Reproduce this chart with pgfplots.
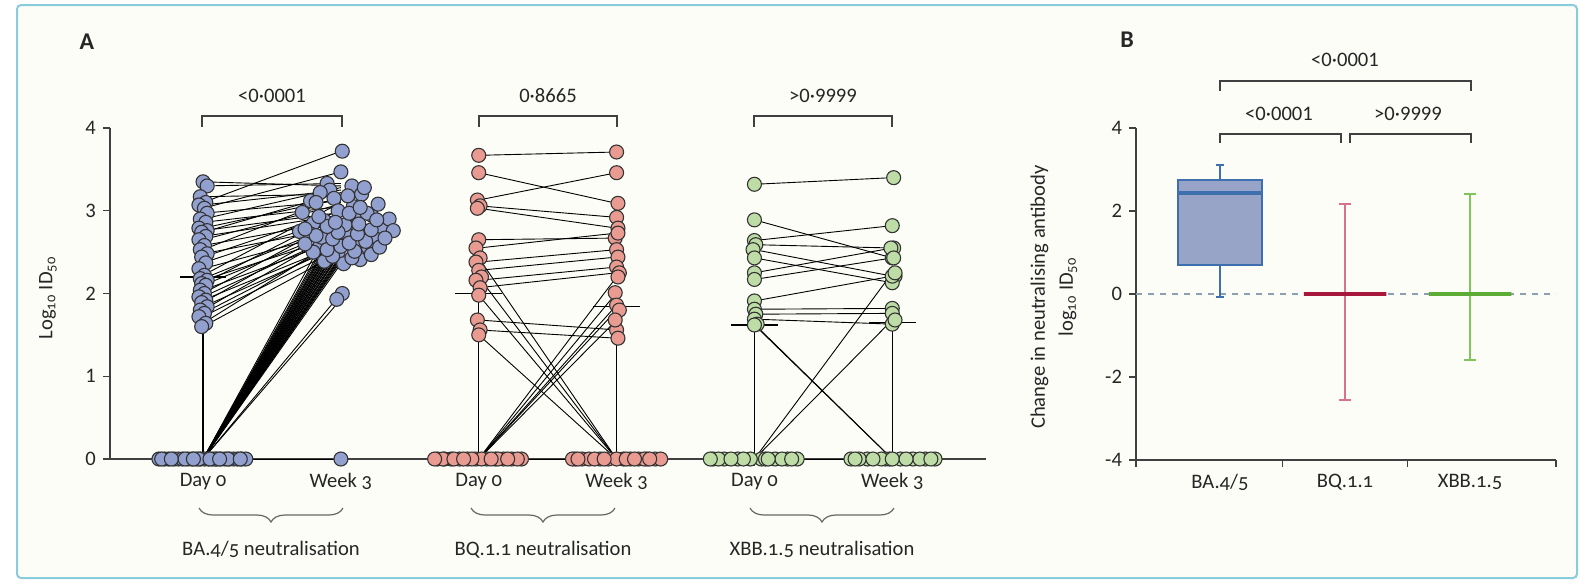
\documentclass[border=0pt]{standalone}
\usepackage{pgfplots}
\pgfplotsset{compat=1.18}
\usepackage{pgfplotstable}
\usepgfplotslibrary{statistics}
\usetikzlibrary{decorations.pathreplacing}
\usepackage{fontspec}
\setmainfont{Carlito}[Numbers=OldStyle]
\newfontfamily\lnum{Carlito}[Numbers=Lining]

\definecolor{baDot}{HTML}{92A0CF}
\definecolor{bqDot}{HTML}{E99B91}
\definecolor{xbDot}{HTML}{BEDDA6}
\definecolor{dotEdge}{HTML}{333333}
\definecolor{axisGray}{HTML}{404040}
\definecolor{boxFill}{HTML}{97A3C7}
\definecolor{boxEdge}{HTML}{3E6FAE}
\definecolor{bqDark}{HTML}{A8183C}
\definecolor{bqLight}{HTML}{D7728C}
\definecolor{xbDark}{HTML}{5CAC35}
\definecolor{xbLight}{HTML}{80C45C}
\definecolor{zeroDash}{HTML}{8C9FB2}
\definecolor{panelBg}{HTML}{FDFDF7}
\definecolor{panelFrame}{HTML}{89CCDC}

\newcommand\labfont{\fontsize{10.3pt}{12pt}\selectfont}

% paired log10 ID50 per participant: day 0 (d0), week 3 (w3), with horizontal offsets of the dots
\pgfplotstableread{
d0 jd w3 jw
3.35 0.00 3.30 0.08
3.30 0.03 3.33 -0.10
3.17 -0.02 3.20 0.15
3.10 0.02 3.72 0.01
3.07 -0.03 3.25 -0.08
3.03 0.01 3.47 0.00
2.97 0.03 3.12 -0.22
2.90 -0.02 3.28 0.17
2.86 0.02 3.05 0.09
2.79 -0.03 3.15 -0.05
2.76 0.03 2.98 -0.28
2.74 -0.01 3.22 -0.15
2.69 0.02 2.95 0.22
2.65 -0.03 3.08 0.27
2.58 0.01 2.88 -0.12
2.53 -0.02 3.18 0.05
2.48 0.03 2.80 0.30
2.44 -0.01 3.00 -0.02
2.37 0.02 2.92 0.12
2.30 -0.03 2.75 -0.30
2.22 0.01 3.10 -0.18
2.18 -0.02 2.85 -0.20
2.16 0.03 2.70 0.06
2.12 -0.01 2.97 0.19
2.10 0.02 2.78 -0.08
2.04 -0.02 2.66 0.25
2.00 0.01 2.90 0.35
1.96 -0.03 2.72 -0.22
1.92 0.02 2.60 0.14
1.89 -0.01 2.83 0.03
1.84 0.03 2.58 -0.15
1.80 -0.02 2.76 0.38
1.76 0.01 2.62 -0.04
1.72 -0.03 2.55 0.20
1.64 0.02 2.68 -0.14
1.60 -0.01 2.50 -0.02
0 -0.32 2.36 0.02
0 -0.28 2.39 -0.12
0 -0.25 2.41 0.14
0 -0.21 2.43 0.08
0 -0.18 2.45 -0.06
0 -0.15 2.47 0.22
0 -0.11 2.50 -0.20
0 -0.08 2.51 0.10
0 -0.05 2.53 -0.10
0 -0.02 2.56 0.28
0 0.01 2.57 0.00
0 0.04 2.60 -0.26
0 0.07 2.61 0.06
0 0.10 2.63 0.18
0 0.13 2.66 -0.06
0 0.16 2.67 0.32
0 0.19 2.70 -0.18
0 0.22 2.72 0.12
0 0.25 2.74 -0.02
0 0.28 2.77 0.22
0 0.31 2.78 -0.26
0 -0.30 2.81 -0.10
0 -0.23 2.84 0.13
0 -0.13 2.86 -0.04
0 -0.03 2.89 0.26
0 0.09 2.93 -0.16
0 0.18 2.97 0.06
0 0.27 3.04 0.14
0 -0.07 2.00 0.01
0 0.05 1.93 -0.03
0 0.12 0 0.00
}\tabBA

\pgfplotstableread{
d0 jd w3 jw
3.67 0.00 3.71 0.00
3.46 0.00 3.09 0.01
3.13 -0.01 3.46 0.00
3.06 0.01 2.92 0.00
3.03 -0.01 2.79 0.01
2.65 0.00 2.67 -0.01
2.55 -0.02 2.73 0.01
2.43 0.01 0 -0.30
2.38 -0.02 2.53 0.00
2.28 0.00 2.44 0.01
2.20 0.02 0 -0.12
2.16 -0.02 2.32 0.00
2.07 0.01 2.25 0.02
1.98 0.00 0 0.05
1.68 -0.01 1.56 0.00
1.56 0.01 1.46 0.01
1.50 0.00 0 0.22
0 -0.30 2.20 0.01
0 -0.20 2.01 -0.01
0 -0.08 1.86 0.00
0 0.06 1.80 0.02
0 0.18 1.68 -0.01
0 -0.25 0 -0.25
0 -0.14 0 -0.20
0 -0.02 0 -0.06
0 0.12 0 0.10
0 0.24 0 0.28
0 0.31 0 0.16
0 -0.26 0 0.32
0 0.02 0 -0.16
0 0.28 0 0.00
0 -0.32 0 -0.32
0 0.14 0 0.20
0 -0.18 0 -0.28
0 -0.05 0 0.24
0 0.09 0 -0.09
0 0.21 0 0.07
0 -0.11 0 0.13
}\tabBQ

\pgfplotstableread{
d0 jd w3 jw
3.32 0.00 3.40 0.01
2.89 0.00 2.43 0.00
2.64 0.00 2.82 0.00
2.59 0.01 2.55 0.01
2.53 -0.01 2.21 0.02
2.43 0.00 2.13 0.00
2.25 0.00 2.55 -0.01
2.17 0.00 2.43 0.01
1.91 0.00 2.21 0.00
1.81 0.00 1.82 0.00
1.75 0.01 1.76 0.00
1.69 0.00 1.63 0.00
1.63 0.02 0 -0.05
1.62 0.00 0 -0.02
0 0.05 2.25 0.02
0 0.08 1.68 0.02
0 -0.30 0 -0.30
0 -0.22 0 -0.18
0 -0.12 0 -0.08
0 -0.03 0 0.06
0 0.15 0 0.15
0 0.24 0 0.24
0 0.31 0 0.31
0 -0.26 0 -0.24
0 -0.08 0 0.00
0 0.20 0 0.20
0 0.10 0 -0.14
0 -0.17 0 0.10
0 0.27 0 -0.27
0 -0.32 0 0.28
}\tabXBB

\pgfplotsset{
  panel/.style={
    scale only axis, clip=false,
    axis x line*=bottom, axis y line*=left,
    every outer x axis line/.append style={-},
    every outer y axis line/.append style={-},
    every inner x axis line/.append style={-},
    every inner y axis line/.append style={-},
    axis line style={axisGray, line width=0.7pt},
    tick align=outside, major tick length=3.5pt,
    tick style={axisGray, line width=0.7pt},
    yticklabel style={font=\labfont\lnum, text=black!85},
    xticklabel style={font=\labfont, text=black!85},
    /pgf/number format/assume math mode=true,
  },
  pairline/.style={black, line width=0.45pt, no marks},
  dots/.style={only marks, mark=*, mark size=3.5pt,
    mark options={fill=#1, draw=dotEdge, line width=0.55pt}},
}

\begin{document}
\begin{tikzpicture}
\begin{scope}[x=0.5pt,y=-0.5pt]
  \fill[white] (0,0) rectangle (1584,580);
  \draw[panelFrame, line width=1pt, fill=panelBg, rounded corners=2pt] (17,5) rectangle (1577,578);
\end{scope}

% Panel A: paired titres
\begin{axis}[panel,
  at={(55pt,-229.5pt)}, anchor=south west,
  width=438pt, height=165.5pt,
  xmin=0.325, xmax=6.68, ymin=0, ymax=4,
  ytick={0,1,2,3,4},
  xtick={1,2,3,4,5,6},
  xticklabels={Day 0, Week 3, Day 0, Week 3, Day 0, Week 3},
]
  \addplot[black, line width=0.6pt, unbounded coords=jump] coordinates {
    (1,0) (1,1.9) (nan,nan) (3,0) (3,2.0) (nan,nan) (4,0) (4,1.9)
    (nan,nan) (5,0) (5,1.9) (nan,nan) (6,0) (6,1.8)};
  \addplot[black, line width=0.6pt, unbounded coords=jump] coordinates {
    (0.83,2.2) (1.17,2.2) (nan,nan) (1.83,2.8) (2.17,2.8) (nan,nan)
    (2.83,2.0) (3.17,2.0) (nan,nan) (3.83,1.84) (4.17,1.84) (nan,nan)
    (4.83,1.62) (5.17,1.62) (nan,nan) (5.83,1.65) (6.17,1.65)};

  \addplot[pairline, quiver={u=1, v=\thisrow{w3}-\thisrow{d0}}] table[x expr=1, y=d0] {\tabBA};
  \addplot[pairline, quiver={u=1, v=\thisrow{w3}-\thisrow{d0}}] table[x expr=3, y=d0] {\tabBQ};
  \addplot[pairline, quiver={u=1, v=\thisrow{w3}-\thisrow{d0}}] table[x expr=5, y=d0] {\tabXBB};

  \addplot[dots=baDot] table[x expr=1+\thisrow{jd}, y=d0] {\tabBA};
  \addplot[dots=baDot] table[x expr=2+\thisrow{jw}, y=w3] {\tabBA};
  \addplot[dots=bqDot] table[x expr=3+\thisrow{jd}, y=d0] {\tabBQ};
  \addplot[dots=bqDot] table[x expr=4+\thisrow{jw}, y=w3] {\tabBQ};
  \addplot[dots=xbDot] table[x expr=5+\thisrow{jd}, y=d0] {\tabXBB};
  \addplot[dots=xbDot] table[x expr=6+\thisrow{jw}, y=w3] {\tabXBB};
\end{axis}

% Panel B: change from day 0 to week 3
\begin{axis}[panel,
  at={(568pt,-230pt)}, anchor=south west,
  width=210pt, height=166pt,
  xmin=0.328, xmax=3.688, ymin=-4, ymax=4,
  ytick={-4,-2,0,2,4},
  xtick={0.328,1.5,2.5,3.688}, xticklabels={,,,},
  extra x ticks={1,2,3},
  extra x tick labels={BA.4/5,BQ.1.1,XBB.1.5},
  extra x tick style={major tick style={draw=none}},
  boxplot/draw direction=y,
]
  \addplot[zeroDash, line width=0.8pt, dash pattern=on 3pt off 3pt] coordinates {(0.328,0) (3.688,0)};
  \addplot[boxplot prepared={draw position=1, median=2.43, upper quartile=2.75,
      lower quartile=0.70, upper whisker=3.10, lower whisker=-0.08,
      box extend=0.67, whisker extend=0.07},
    draw=boxEdge, fill=boxFill, line width=0.9pt,
    boxplot/every median/.style={line width=1.8pt}] coordinates {};
  \addplot[boxplot prepared={draw position=2, median=0, upper quartile=0,
      lower quartile=0, upper whisker=2.17, lower whisker=-2.55,
      box extend=0.66, whisker extend=0.09},
    draw=bqLight, line width=0.9pt,
    boxplot/every box/.style={draw=bqDark, line width=2.4pt},
    boxplot/every median/.style={draw=bqDark, line width=2.4pt}] coordinates {};
  \addplot[boxplot prepared={draw position=3, median=0, upper quartile=0,
      lower quartile=0, upper whisker=2.41, lower whisker=-1.59,
      box extend=0.66, whisker extend=0.09},
    draw=xbLight, line width=0.9pt,
    boxplot/every box/.style={draw=xbDark, line width=2.4pt},
    boxplot/every median/.style={draw=xbDark, line width=2.4pt}] coordinates {};
\end{axis}

\begin{scope}[x=0.5pt,y=-0.5pt, every node/.style={text=black!85}]
  \node[font=\bfseries\fontsize{12pt}{14pt}\selectfont] at (87,42) {A};
  \node[font=\bfseries\fontsize{12pt}{14pt}\selectfont] at (1127,40) {B};

  % comparison brackets, panel A
  \draw[axisGray, line width=0.7pt] (202,127) -- (202,116) -- (342,116) -- (342,127);
  \draw[axisGray, line width=0.7pt] (479,127) -- (479,116) -- (617,116) -- (617,127);
  \draw[axisGray, line width=0.7pt] (754,127) -- (754,116) -- (892,116) -- (892,127);
  \node[font=\labfont\lnum] at (272,96) {<0·0001};
  \node[font=\labfont\lnum] at (548,96) {0·8665};
  \node[font=\labfont\lnum] at (823,96) {>0·9999};

  % group braces and names
  \foreach \a/\b in {199/343, 471/615, 750/894}
    \draw[axisGray!80, line width=0.6pt, decorate, decoration={brace, mirror, amplitude=7pt}] (\a,508) -- (\b,508);
  \node[font=\labfont, anchor=base] at (271,555) {BA.4/5 neutralisation};
  \node[font=\labfont, anchor=base] at (543,555) {BQ.1.1 neutralisation};
  \node[font=\labfont, anchor=base] at (822,555) {XBB.1.5 neutralisation};

  \node[rotate=90, font=\labfont] at (48,298) {Log\textsubscript{10} ID\textsubscript{50}};
  \node[rotate=90, align=center, font=\fontsize{10.3pt}{14pt}\selectfont] at (1054,297)
    {Change in neutralising antibody\\log\textsubscript{10} ID\textsubscript{50}};

  % comparison brackets, panel B
  \draw[axisGray, line width=0.7pt] (1220,91) -- (1220,81) -- (1471,81) -- (1471,91);
  \draw[axisGray, line width=0.7pt] (1220,143) -- (1220,134) -- (1341,134) -- (1341,143);
  \draw[axisGray, line width=0.7pt] (1350,143) -- (1350,134) -- (1471,134) -- (1471,143);
  \node[font=\labfont\lnum] at (1345,60) {<0·0001};
  \node[font=\labfont\lnum] at (1279,114) {<0·0001};
  \node[font=\labfont\lnum] at (1408,114) {>0·9999};
\end{scope}

\pgfresetboundingbox
\path[use as bounding box] (0,0) rectangle (792pt,-290pt);
\end{tikzpicture}
\end{document}
